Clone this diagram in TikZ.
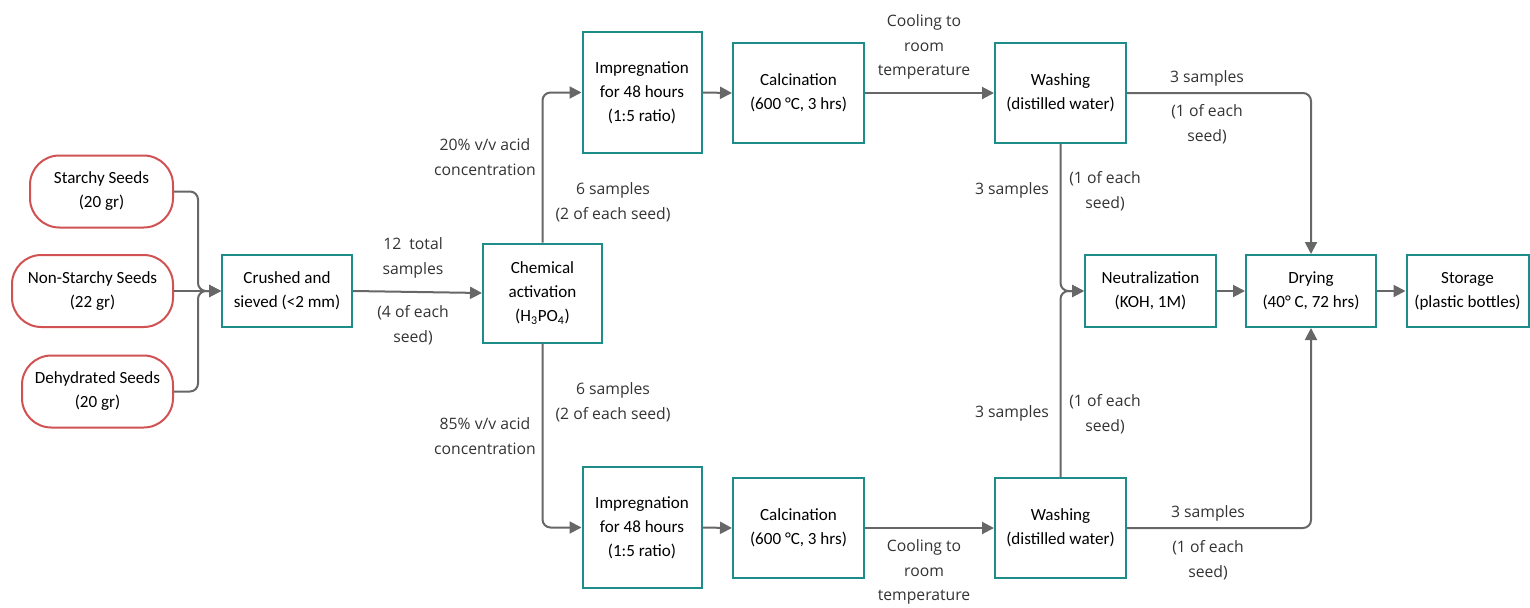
\documentclass[tikz,border=0pt]{standalone}
\usepackage{fontspec}
\setmainfont{Carlito}
\newfontfamily\labelfont{Open Sans}
\usetikzlibrary{arrows.meta}
\definecolor{boxteal}{HTML}{1E8C89}
\definecolor{seedred}{HTML}{D05252}
\definecolor{wire}{HTML}{676767}
\begin{document}
\begin{tikzpicture}[x=0.75pt,y=-0.75pt,
  stepbox/.style={draw=boxteal,line width=1.5pt,fill=white,align=center,
    inner sep=0pt,font=\fontsize{12.8}{18}\selectfont},
  seedbox/.style={draw=seedred,line width=1.5pt,fill=white,align=center,
    inner sep=0pt,rounded corners=22pt,font=\fontsize{12.8}{18}\selectfont},
  flow/.style={draw=wire,line width=1.5pt,rounded corners=6pt,
    -{Triangle[length=9pt,width=9pt]}},
  wirelbl/.style={align=center,inner sep=0pt,text=black!80,
    font=\labelfont\fontsize{11.8}{18.5}\selectfont}]
\useasboundingbox (0,0) rectangle (1530,607);

% raw material
\node[seedbox,minimum width=143*0.75pt,minimum height=72*0.75pt] (s1) at (101.5,191.5) {Starchy Seeds\\(20 gr)};
\node[seedbox,minimum width=161*0.75pt,minimum height=72*0.75pt] (s2) at (92.5,291) {Non-Starchy Seeds\\(22 gr)};
\node[seedbox,minimum width=151*0.75pt,minimum height=72*0.75pt] (s3) at (97.5,391.5) {Dehydrated Seeds\\(20 gr)};

% process steps
\node[stepbox,minimum width=130*0.75pt,minimum height=72*0.75pt] (crush) at (287,291) {Crushed and\\sieved (<2 mm)};
\node[stepbox,minimum width=119*0.75pt,minimum height=99*0.75pt] (chem) at (542.5,293) {Chemical\\activation\\(H\textsubscript{3}PO\textsubscript{4})};
\node[stepbox,minimum width=119*0.75pt,minimum height=121*0.75pt] (imp1) at (642,92.5) {Impregnation\\for 48 hours\\(1:5 ratio)};
\node[stepbox,minimum width=131*0.75pt,minimum height=100*0.75pt] (cal1) at (798.5,93) {Calcination\\(600 °C, 3 hrs)};
\node[stepbox,minimum width=131*0.75pt,minimum height=100*0.75pt] (wash1) at (1060.5,93) {Washing\\(distilled water)};
\node[stepbox,minimum width=119*0.75pt,minimum height=121*0.75pt] (imp2) at (642,527.5) {Impregnation\\for 48 hours\\(1:5 ratio)};
\node[stepbox,minimum width=131*0.75pt,minimum height=100*0.75pt] (cal2) at (798.5,528) {Calcination\\(600 °C, 3 hrs)};
\node[stepbox,minimum width=131*0.75pt,minimum height=100*0.75pt] (wash2) at (1060.5,528) {Washing\\(distilled water)};
\node[stepbox,minimum width=131*0.75pt,minimum height=72*0.75pt] (neu) at (1150.5,291) {Neutralization\\(KOH, 1M)};
\node[stepbox,minimum width=130*0.75pt,minimum height=72*0.75pt] (dry) at (1311,291) {Drying\\(40° C, 72 hrs)};
\node[stepbox,minimum width=122*0.75pt,minimum height=72*0.75pt] (sto) at (1467.5,291) {Storage\\(plastic bottles)};

% merge points
\coordinate (jseed) at (198,291);
\coordinate (jneu) at (1060.5,291);

% connectors
\draw[flow] (s1.east) -| (jseed) -- (crush.west);
\draw[flow] (s2.east) -- (crush.west);
\draw[flow] (s3.east) -| (jseed) -- (crush.west);
\draw[flow] (crush.east) -- (chem.west);
\draw[flow] (chem.north) |- (imp1.west);
\draw[flow] (chem.south) |- (imp2.west);
\draw[flow] (imp1.east) -- (cal1.west);
\draw[flow] (imp2.east) -- (cal2.west);
\draw[flow] (cal1.east) -- (wash1.west);
\draw[flow] (cal2.east) -- (wash2.west);
\draw[flow] (wash1.east) -| (dry.north);
\draw[flow] (wash2.east) -| (dry.south);
\draw[flow] (wash1.south) -- (jneu) -- (neu.west);
\draw[flow] (wash2.north) -- (jneu) -- (neu.west);
\draw[flow] (neu.east) -- (dry.west);
\draw[flow] (dry.east) -- (sto.west);

% connector labels
\node[wirelbl] (l1) at (413,258) {12\ \ total\\samples};
\node[wirelbl] (l2) at (413,325) {(4 of each\\seed)};
\node[wirelbl] (l3) at (485,157) {20\% v/v acid\\concentration};
\node[wirelbl] (l4) at (613,202) {6 samples\\(2 of each seed)};
\node[wirelbl] (l5) at (613,402) {6 samples\\(2 of each seed)};
\node[wirelbl] (l6) at (485,436) {85\% v/v acid\\concentration};
\node[wirelbl] (l7) at (924,47) {Cooling to\\room\\temperature};
\node[wirelbl] (l8) at (924,572) {Cooling to\\room\\temperature};
\node[wirelbl] (l9) at (1207,78) {3 samples};
\node[wirelbl] (l10) at (1207,124) {(1 of each\\seed)};
\node[wirelbl] (l11) at (1012,190) {3 samples};
\node[wirelbl] (l12) at (1105,191) {(1 of each\\seed)};
\node[wirelbl] (l13) at (1012,413) {3 samples};
\node[wirelbl] (l14) at (1105,414) {(1 of each\\seed)};
\node[wirelbl] (l15) at (1208,513) {3 samples};
\node[wirelbl] (l16) at (1208,560) {(1 of each\\seed)};
\end{tikzpicture}
\end{document}
